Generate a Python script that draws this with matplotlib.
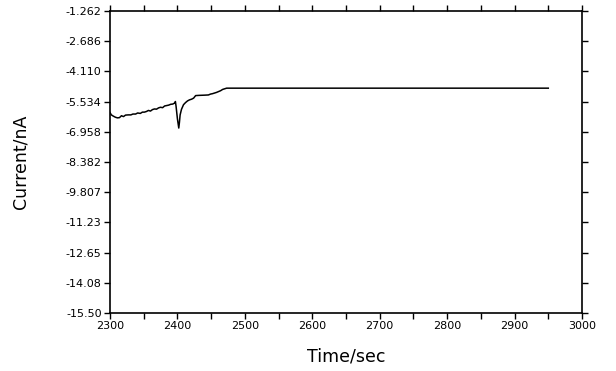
import numpy as np
import matplotlib
matplotlib.use("Agg")
import matplotlib.pyplot as plt
from matplotlib.ticker import MultipleLocator

# Data
time_sec = [2300, 2302, 2305, 2308, 2311, 2314, 2317, 2320, 2323, 2327, 2331,
            2334, 2338, 2341, 2345, 2348, 2351, 2354, 2357, 2360, 2363, 2366,
            2369, 2372, 2375, 2378, 2381, 2384, 2387, 2390, 2393, 2396, 2397,
            2398, 2400, 2402, 2403, 2404, 2406, 2409, 2412, 2415, 2418, 2421,
            2424, 2427, 2432, 2440, 2446, 2449, 2452, 2455, 2458, 2461, 2464,
            2467, 2470, 2473, 2950]
current_na = [-6.05, -6.16, -6.22, -6.27, -6.30, -6.29, -6.20, -6.24, -6.17,
              -6.16, -6.16, -6.12, -6.12, -6.07, -6.09, -6.03, -6.03, -6.00,
              -5.95, -5.98, -5.91, -5.88, -5.89, -5.83, -5.80, -5.82, -5.74,
              -5.72, -5.70, -5.66, -5.65, -5.60, -5.53, -5.76, -6.35, -6.78,
              -6.50, -6.16, -5.90, -5.68, -5.58, -5.50, -5.45, -5.42, -5.37,
              -5.25, -5.24, -5.23, -5.22, -5.18, -5.16, -5.13, -5.10, -5.06,
              -5.02, -4.96, -4.93, -4.90, -4.90]

y_ticks = [-1.262, -2.686, -4.110, -5.534, -6.958, -8.382, -9.807, -11.23,
           -12.65, -14.08, -15.50]
y_tick_labels = ["-1.262", "-2.686", "-4.110", "-5.534", "-6.958", "-8.382",
                 "-9.807", "-11.23", "-12.65", "-14.08", "-15.50"]
x_ticks = [2300, 2400, 2500, 2600, 2700, 2800, 2900, 3000]

plt.rcParams['font.family'] = ['DejaVu Sans']

fig = plt.figure(figsize=(6.16, 3.71), dpi=100)
ax = fig.add_axes([110 / 616, 1 - 313 / 371, 472 / 616, 302 / 371])

ax.plot(time_sec, current_na, color='black', linewidth=1.1)

ax.set_xlim(2300, 3000)
ax.set_ylim(-15.50, -1.262)
ax.set_xticks(x_ticks)
ax.xaxis.set_minor_locator(MultipleLocator(50))
ax.set_yticks(y_ticks)
ax.set_yticklabels(y_tick_labels)

ax.tick_params(axis='both', which='both', direction='out', top=True, right=True,
               labelsize=8, width=1.0, length=4, pad=2)
for sp in ax.spines.values():
    sp.set_linewidth(1.2)

ax.set_xlabel('Time/sec', fontsize=12.5)
ax.set_ylabel('Current/nA', fontsize=12.5)
ax.xaxis.set_label_coords(0.5, -0.115)
ax.yaxis.set_label_coords(-0.17, 0.5)

fig.savefig('out.png', dpi=100)
